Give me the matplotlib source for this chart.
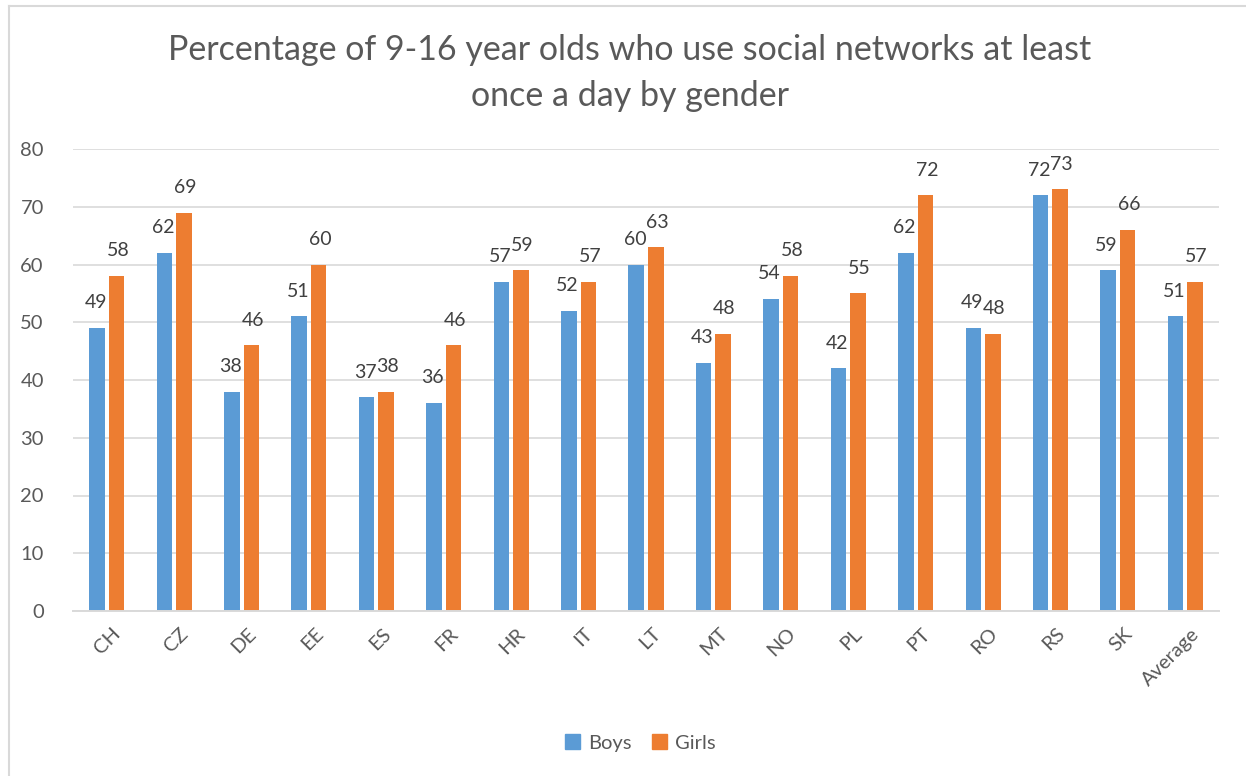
import matplotlib.pyplot as plt
from matplotlib.lines import Line2D
from matplotlib.patches import Patch
import numpy as np

# Data
countries = ['CH', 'CZ', 'DE', 'EE', 'ES', 'FR', 'HR', 'IT', 'LT', 'MT',
             'NO', 'PL', 'PT', 'RO', 'RS', 'SK', 'Average']
boys = [49, 62, 38, 51, 37, 36, 57, 52, 60, 43, 54, 42, 62, 49, 72, 59, 51]
girls = [58, 69, 46, 60, 38, 46, 59, 57, 63, 48, 58, 55, 72, 48, 73, 66, 57]

blue = '#5B9BD5'
orange = '#ED7D31'
txt = '#595959'

plt.rcParams['font.family'] = ['Lato', 'DejaVu Sans']

fig = plt.figure(figsize=(12.46, 7.76), dpi=100)
ax = fig.add_axes([73 / 1246, 1 - 611 / 776, (1219 - 73) / 1246, (611 - 149) / 776])

x = np.arange(len(countries))
w = 0.23
off = 0.145
ax.bar(x - off, boys, w, color=blue)
ax.bar(x + off, girls, w, color=orange)

# value labels, nudged apart a little where the pair is close
for xi, b, g in zip(x, boys, girls):
    ax.annotate(str(b), (xi - off, b), xytext=(-1, 12), textcoords='offset points',
                ha='center', va='bottom', fontsize=14, color='#404040')
    ax.annotate(str(g), (xi + off, g), xytext=(1, 12), textcoords='offset points',
                ha='center', va='bottom', fontsize=14, color='#404040')

ax.set_xlim(-0.5, len(countries) - 0.5)
ax.set_ylim(0, 80)
ax.set_yticks(range(0, 81, 10))
ax.set_xticks(x + 0.08)
ax.set_xticklabels(countries, rotation=45, ha='right', rotation_mode='anchor')
ax.tick_params(axis='both', length=0, labelsize=14.5, colors=txt)
ax.tick_params(axis='x', pad=10)
ax.tick_params(axis='y', pad=21)
ax.grid(axis='y', color='#D9D9D9', linewidth=1.2)
ax.set_axisbelow(True)
for s in ['top', 'right', 'left']:
    ax.spines[s].set_visible(False)
ax.spines['bottom'].set_color('#D9D9D9')
ax.spines['bottom'].set_linewidth(1.4)

fig.text(630 / 1246, 1 - 73 / 776, 'Percentage of 9-16 year olds who use social networks at least\nonce a day by gender',
         ha='center', va='center', fontsize=24.5, color=txt, linespacing=1.5)

handles = [Patch(color=blue, label='Boys'), Patch(color=orange, label='Girls')]
fig.legend(handles=handles, loc='center', bbox_to_anchor=(640 / 1246, 1 - 743 / 776), ncol=2,
           frameon=False, fontsize=14.5, handlelength=0.75, handleheight=0.75,
           handletextpad=0.4, columnspacing=1.0, labelcolor=txt)

# chart area border (only top and left visible in the crop)
fig.add_artist(Line2D([8.5 / 1246, 8.5 / 1246], [0, 1 - 5.5 / 776], transform=fig.transFigure,
                      color='#D9D9D9', linewidth=1.5))
fig.add_artist(Line2D([8.5 / 1246, 1], [1 - 5.5 / 776, 1 - 5.5 / 776], transform=fig.transFigure,
                      color='#D9D9D9', linewidth=1.5))

fig.savefig('out.png', dpi=100)
